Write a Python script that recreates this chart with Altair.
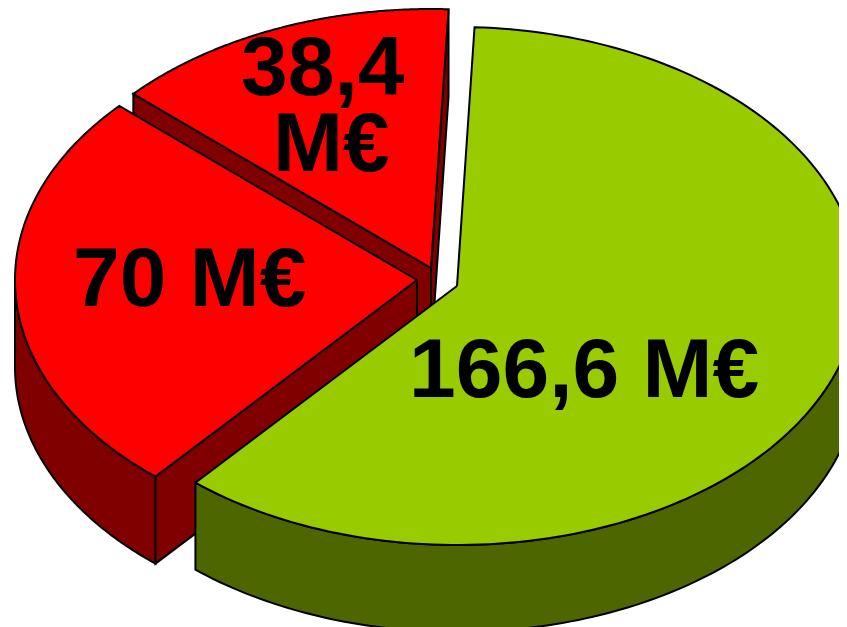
import numpy as np
import pandas as pd
import altair as alt

names = ["vert", "rouge_70", "rouge_38"]
values = [166.6, 70.0, 38.4]
top_colors = ["#99CC00", "#FF0000", "#FF0000"]
side_colors = ["#4D6600", "#800000", "#800000"]
apex_x = [457, 417, 431]
apex_y = [286, 280, 268]
start_angle = 2.5
rx, ry, depth = 402, 259, 87

label_text = ["166,6 M€", "70 M€", "38,4", "M€"]
label_x = [409, 73, 241, 273]
label_y = [397, 306, 95, 171]

shares = np.array(values) / sum(values) * 360
starts = start_angle + np.concatenate([[0], np.cumsum(shares)[:-1]])


def pt(cx, cy, t, dz=0):
    r = np.radians(t)
    return cx + rx * np.sin(r), cy - ry * np.cos(r) + dz


def frame(points, name):
    return pd.DataFrame({"px": [p[0] for p in points], "py": [p[1] for p in points],
                         "i": range(len(points)), "part": name})


x_enc = alt.X("px:Q", axis=None, scale=alt.Scale(domain=[8, 839], nice=False, zero=False))
y_enc = alt.Y("py:Q", axis=None, scale=alt.Scale(domain=[627, 8], nice=False, zero=False))


def poly(points, name, color):
    points = points + [points[0]]
    return alt.Chart(frame(points, name)).mark_line(
        fill=color, stroke="black", strokeWidth=2, clip=True, interpolate="linear"
    ).encode(x=x_enc, y=y_enc, order="i:Q")


layers = []
for k in [2, 1, 0]:
    cx, cy = apex_x[k], apex_y[k]
    a, b = starts[k], starts[k] + shares[k]
    ts = np.linspace(a, b, 160)
    # only the cut walls that face the viewer
    visible = []
    if np.sin(np.radians(a)) < 0:
        visible.append(a)
    if np.sin(np.radians(b)) > 0:
        visible.append(b)
    for t in visible:
        px, py = pt(cx, cy, t)
        wall = [(cx, cy), (px, py), (px, py + depth), (cx, cy + depth)]
        layers.append(poly(wall, f"{names[k]}_cut{t:.0f}", side_colors[k]))
    # outer rim: the part facing the viewer
    lo, hi = max(a, 90), min(b, 270)
    if hi > lo:
        tr = np.linspace(lo, hi, 120)
        rim = [pt(cx, cy, t) for t in tr] + [pt(cx, cy, t, depth) for t in tr[::-1]]
        layers.append(poly(rim, f"{names[k]}_rim", side_colors[k]))
    top = [(cx, cy)] + [pt(cx, cy, t) for t in ts]
    layers.append(poly(top, f"{names[k]}_top", top_colors[k]))

labels = pd.DataFrame({"px": label_x, "py": label_y, "t": label_text})
layers.append(alt.Chart(labels).mark_text(
    font="Liberation Sans", fontWeight="bold", fontSize=84, align="left", baseline="alphabetic", color="black"
).encode(x=x_enc, y=y_enc, text="t:N"))

chart = alt.layer(*layers).properties(width=831, height=619, padding=0, background="white").configure_view(stroke=None)
chart.save("out.html", embed_options={"renderer": "svg", "actions": False})
